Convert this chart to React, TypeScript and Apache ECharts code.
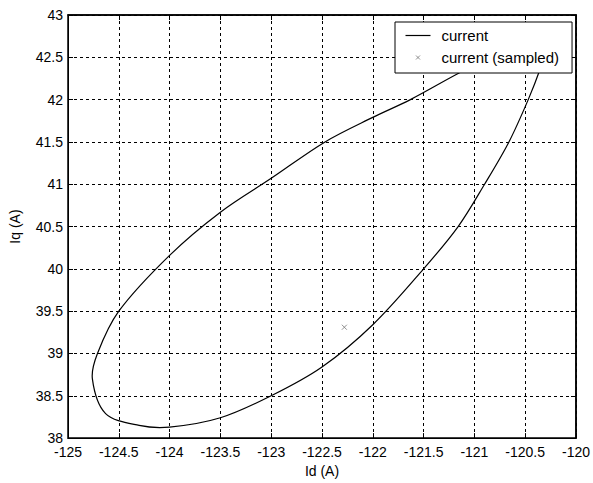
import React, { useEffect, useRef } from "react";
import * as echarts from "echarts";

// Measured loop of the current trajectory (Id, Iq); the loop is closed
const idValues = [
  -120.45, -121.06, -121.63, -122.0, -122.47, -123.0, -123.5, -124.0, -124.5, -124.71,
  -124.76, -124.63, -124.3, -124.0, -123.5, -123.0, -122.5, -122.0, -121.5, -121.16,
  -120.9, -120.66, -120.47, -120.35, -120.3,
];
const iqValues = [
  42.7, 42.37, 42.0, 41.79, 41.5, 41.07, 40.67, 40.16, 39.5, 39.0,
  38.7, 38.29, 38.15, 38.13, 38.24, 38.5, 38.84, 39.34, 40.0, 40.5,
  41.0, 41.5, 42.0, 42.37, 42.58,
];
const sampledId = [-122.28];
const sampledIq = [39.31];

const seriesNames = ["current", "current (sampled)"];
const xAxisTitle = "Id (A)";
const yAxisTitle = "Iq (A)";

const FONT = "'Liberation Sans', Arial, Helvetica, sans-serif";
const CROSS = "path://M0,0L10,10M10,0L0,10";
const LEGEND_CROSS = "path://M0,0M25,14M10.5,5L14.5,9M14.5,5L10.5,9";
const LEGEND_LINE = "path://M0,0M25,14M0,6.4L25,6.4L25,7.6L0,7.6Z";

// closed chord-length cardinal spline through pixel points
function closedSplinePath(pts: number[][]): string {
  const n = pts.length;
  const d = (a: number[], b: number[]) => Math.hypot(b[0] - a[0], b[1] - a[1]) || 1e-6;
  const tangents = pts.map((p, i) => {
    const prev = pts[(i - 1 + n) % n];
    const next = pts[(i + 1) % n];
    const s = d(prev, p) + d(p, next);
    return [(next[0] - prev[0]) / s, (next[1] - prev[1]) / s];
  });
  let path = `M${pts[0][0]},${pts[0][1]}`;
  for (let i = 0; i < n; i++) {
    const a = pts[i];
    const b = pts[(i + 1) % n];
    const ta = tangents[i];
    const tb = tangents[(i + 1) % n];
    const L = d(a, b) / 3;
    path += `C${a[0] + ta[0] * L},${a[1] + ta[1] * L} ${b[0] - tb[0] * L},${b[1] - tb[1] * L} ${b[0]},${b[1]}`;
  }
  return path + "Z";
}

export default function App() {
  const ref = useRef<HTMLDivElement>(null);
  useEffect(() => {
    document.body.style.margin = "0";
    const chart = echarts.init(ref.current!, null, { renderer: "svg" });
    const lineData = idValues.map((x, i) => [x, iqValues[i]]);
    const pointData = sampledId.map((x, i) => [x, sampledIq[i]]);
    const gridLine = { show: true, lineStyle: { color: "#000", width: 1, type: [3, 3] as any } };
    chart.setOption({
      animation: false,
      backgroundColor: "#fff",
      textStyle: { fontFamily: FONT },
      grid: {
        left: 65, top: 15, width: 514, height: 426,
        show: true, borderColor: "#000", borderWidth: 1.5, backgroundColor: "transparent",
      },
      legend: {
        left: 395, top: 22,
        orient: "vertical",
        backgroundColor: "#fff",
        borderColor: "#000",
        borderWidth: 1,
        borderRadius: 0,
        padding: [6, 13, 6, 8],
        itemGap: 5,
        itemWidth: 25,
        itemHeight: 14,
        textStyle: { fontSize: 15, color: "#000", fontFamily: FONT, padding: [0, 0, 0, 6] },
        data: [
          { name: seriesNames[0], icon: LEGEND_LINE, itemStyle: { color: "#000", borderWidth: 0 } },
          { name: seriesNames[1], icon: LEGEND_CROSS, itemStyle: { color: "none", borderColor: "#777", borderWidth: 1 } },
        ],
        selectedMode: false,
      },
      xAxis: [
        {
          type: "value", min: -125, max: -120, interval: 0.5,
          name: xAxisTitle, nameLocation: "middle", nameGap: 22,
          nameTextStyle: { fontSize: 14, color: "#000", fontFamily: FONT },
          axisLine: { show: true, onZero: false, lineStyle: { color: "#000", width: 1 } },
          axisTick: { show: true, inside: true, length: 5, lineStyle: { color: "#000" } },
          axisLabel: { fontSize: 14, color: "#000", margin: 7, fontFamily: FONT },
          splitLine: gridLine,
        },
        {
          type: "value", min: -125, max: -120, interval: 0.5, position: "top",
          axisLine: { show: true, onZero: false, lineStyle: { color: "#000", width: 1.5 } },
          axisTick: { show: true, inside: true, length: 5, lineStyle: { color: "#000" } },
          axisLabel: { show: false },
          splitLine: { show: false },
        },
      ],
      yAxis: [
        {
          type: "value", min: 38, max: 43, interval: 0.5,
          name: yAxisTitle, nameLocation: "middle", nameGap: 46,
          nameTextStyle: { fontSize: 14, color: "#000", fontFamily: FONT },
          axisLine: { show: true, onZero: false, lineStyle: { color: "#000", width: 1 } },
          axisTick: { show: true, inside: true, length: 5, lineStyle: { color: "#000" } },
          axisLabel: { fontSize: 14, color: "#000", margin: 5, fontFamily: FONT },
          splitLine: gridLine,
        },
        {
          type: "value", min: 38, max: 43, interval: 0.5, position: "right",
          axisLine: { show: true, onZero: false, lineStyle: { color: "#000", width: 1.5 } },
          axisTick: { show: true, inside: true, length: 5, lineStyle: { color: "#000" } },
          axisLabel: { show: false },
          splitLine: { show: false },
        },
      ],
      series: [
        {
          name: seriesNames[0],
          type: "custom",
          coordinateSystem: "cartesian2d",
          data: [lineData[0]],
          itemStyle: { color: "#000" },
          renderItem: (_params: any, api: any) => {
            const pts = lineData.map((p) => api.coord(p));
            return {
              type: "path",
              shape: { pathData: closedSplinePath(pts) },
              style: { stroke: "#000", fill: "none", lineWidth: 1.2 },
            };
          },
          z: 3,
        },
        {
          name: seriesNames[1],
          type: "scatter",
          data: pointData,
          symbol: CROSS,
          symbolSize: 5,
          itemStyle: { color: "none", borderColor: "#777", borderWidth: 1 },
          z: 3,
        },
      ],
    });
    return () => chart.dispose();
  }, []);
  return <div ref={ref} style={{ position: "fixed", left: 0, top: 0, width: 593, height: 483 }} />;
}
